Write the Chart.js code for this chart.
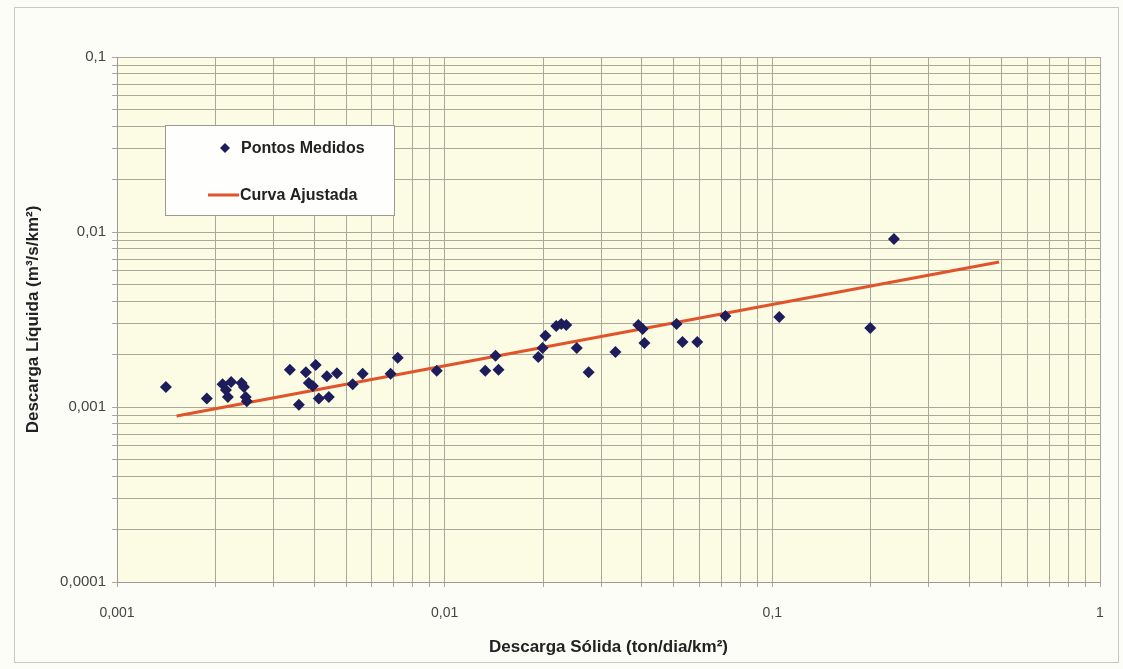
<!DOCTYPE html>
<html>
<head>
<meta charset="utf-8">
<script src="https://cdn.jsdelivr.net/npm/chart.js@4/dist/chart.umd.min.js"></script>
<style>
  html, body { margin: 0; padding: 0; background: #fdfdf8; }
  #wrap { width: 1123px; height: 669px; position: relative; }
</style>
</head>
<body>
<div id="wrap"><canvas id="curvaChave" width="1123" height="669"></canvas></div>
<script>
// pontos medidos (descarga solida x descarga liquida)
const pontosX = [0.00141, 0.00188, 0.00210, 0.00223, 0.00240, 0.00244, 0.00215, 0.00218, 0.00247, 0.00249,
  0.00337, 0.00377, 0.00404, 0.00437, 0.00469, 0.00385, 0.00396, 0.00359, 0.00413, 0.00443,
  0.00524, 0.00562, 0.00684, 0.00719, 0.00946, 0.0133, 0.0146, 0.0143, 0.0193, 0.0199,
  0.0203, 0.0219, 0.0227, 0.0235, 0.0253, 0.0275, 0.0332, 0.0390, 0.0402, 0.0407,
  0.0510, 0.0532, 0.0590, 0.0719, 0.105, 0.199, 0.235];
const pontosY = [0.00130, 0.00112, 0.00135, 0.00139, 0.00137, 0.00130, 0.00125, 0.00114, 0.00114, 0.00108,
  0.00163, 0.00158, 0.00174, 0.00150, 0.00156, 0.00137, 0.00132, 0.00103, 0.00112, 0.00114,
  0.00135, 0.00155, 0.00155, 0.00191, 0.00161, 0.00161, 0.00163, 0.00196, 0.00193, 0.00217,
  0.00255, 0.00290, 0.00298, 0.00294, 0.00217, 0.00158, 0.00206, 0.00294, 0.00279, 0.00232,
  0.00298, 0.00235, 0.00235, 0.00331, 0.00327, 0.00283, 0.00912];

// curva ajustada (extremos)
const curvaX = [0.00152, 0.492];
const curvaY = [0.000889, 0.00674];

const xTickLabels = ['0,001', '0,01', '0,1', '1'];
const yTickLabels = ['0,0001', '0,001', '0,01', '0,1'];
const xMinExp = -3, yMinExp = -4;

const fontFam = '"Liberation Sans", Arial, sans-serif';

function logTicks(scale) {
  const ticks = [];
  const e0 = Math.round(Math.log10(scale.min));
  const e1 = Math.round(Math.log10(scale.max));
  for (let e = e0; e <= e1; e++) {
    for (let m = 1; m <= 9; m++) {
      const v = m * Math.pow(10, e);
      if (v > scale.max * 1.0001) break;
      ticks.push({ value: v, major: m === 1 });
    }
  }
  scale.ticks = ticks;
}

function tickLabel(labels, minExp) {
  return function (value) {
    const lg = Math.log10(value);
    if (Math.abs(lg - Math.round(lg)) > 1e-6) return '';
    return labels[Math.round(lg) - minExp] || '';
  };
}

const fundo = {
  id: 'fundo',
  beforeDraw(chart) {
    const { ctx, chartArea: a } = chart;
    ctx.save();
    ctx.fillStyle = '#fdfdf8';
    ctx.fillRect(0, 0, chart.width, chart.height);
    ctx.strokeStyle = '#c9c9c0';
    ctx.lineWidth = 1;
    ctx.strokeRect(14.5, 7.5, 1104, 655);
    ctx.fillStyle = '#fcfbe3';
    ctx.fillRect(a.left, a.top, a.right - a.left, a.bottom - a.top);
    ctx.restore();
  }
};

const legenda = {
  id: 'legenda',
  afterDraw(chart) {
    const ctx = chart.ctx;
    const ds = chart.data.datasets;
    ctx.save();
    ctx.fillStyle = '#fefefc';
    ctx.fillRect(165, 125, 229, 90);
    ctx.strokeStyle = '#9a9a94';
    ctx.lineWidth = 1;
    ctx.strokeRect(165.5, 125.5, 229, 90);

    ctx.font = 'bold 16px ' + fontFam;
    ctx.textBaseline = 'middle';

    // pontos
    ctx.fillStyle = ds[0].backgroundColor;
    ctx.beginPath();
    ctx.moveTo(225, 143); ctx.lineTo(230, 148); ctx.lineTo(225, 153); ctx.lineTo(220, 148);
    ctx.closePath(); ctx.fill();
    ctx.fillStyle = '#222';
    ctx.fillText(ds[0].label, 241, 149);

    // curva
    ctx.strokeStyle = ds[1].borderColor;
    ctx.lineWidth = 3;
    ctx.beginPath(); ctx.moveTo(208, 195); ctx.lineTo(239, 195); ctx.stroke();
    ctx.fillText(ds[1].label, 240, 196);
    ctx.restore();
  }
};

new Chart(document.getElementById('curvaChave'), {
  type: 'scatter',
  data: {
    datasets: [
      {
        label: 'Pontos Medidos',
        data: pontosX.map((x, i) => ({ x: x, y: pontosY[i] })),
        pointStyle: 'rectRot',
        pointRadius: 6,
        backgroundColor: '#1d1d5c',
        borderWidth: 0
      },
      {
        label: 'Curva Ajustada',
        data: curvaX.map((x, i) => ({ x: x, y: curvaY[i] })),
        showLine: true,
        borderColor: '#e0532b',
        borderWidth: 3,
        pointRadius: 0
      }
    ]
  },
  options: {
    responsive: false,
    animation: false,
    layout: { padding: { top: 57, right: 23, bottom: 0, left: 0 } },
    plugins: {
      legend: { display: false },
      tooltip: { enabled: false }
    },
    scales: {
      x: {
        type: 'logarithmic',
        min: 0.001,
        max: 1,
        afterBuildTicks: logTicks,
        afterFit: s => { s.height = 87; },
        grid: { color: '#a8a89b', lineWidth: 1, tickLength: 5 },
        border: { color: '#9a9a94' },
        ticks: {
          autoSkip: false,
          maxRotation: 0,
          padding: 18,
          color: '#444',
          font: { family: fontFam, size: 14 },
          callback: tickLabel(xTickLabels, xMinExp)
        },
        title: {
          display: true,
          text: 'Descarga Sólida (ton/dia/km²)',
          color: '#222',
          font: { family: fontFam, size: 17, weight: 'bold' },
          padding: { top: 0, bottom: 11 }
        }
      },
      y: {
        type: 'logarithmic',
        min: 0.0001,
        max: 0.1,
        afterBuildTicks: logTicks,
        afterFit: s => { s.width = 117; },
        grid: { color: '#a8a89b', lineWidth: 1, tickLength: 5 },
        border: { color: '#9a9a94' },
        ticks: {
          autoSkip: false,
          padding: 6,
          color: '#444',
          font: { family: fontFam, size: 15 },
          callback: tickLabel(yTickLabels, yMinExp)
        },
        title: {
          display: true,
          text: 'Descarga Líquida (m³/s/km²)',
          color: '#222',
          font: { family: fontFam, size: 17, weight: 'bold' },
          padding: { top: 23, bottom: 0 }
        }
      }
    }
  },
  plugins: [fundo, legenda]
});
</script>
</body>
</html>
